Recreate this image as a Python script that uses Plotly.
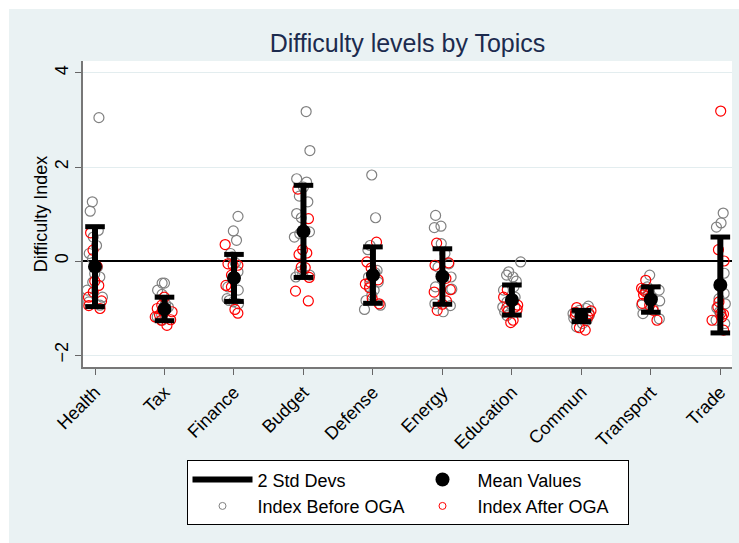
import plotly.graph_objects as go

topics = ["Health", "Tax", "Finance", "Budget", "Defense", "Energy",
          "Education", "Commun", "Transport", "Trade"]

mean_values = [-0.12, -1.02, -0.36, 0.63, -0.30, -0.33, -0.83, -1.17, -0.82, -0.51]
two_sd = [0.85, 0.25, 0.50, 0.98, 0.60, 0.59, 0.32, 0.12, 0.27, 1.02]

before_health = [3.05, 1.26, 1.06, 0.65, 0.51, 0.33, 0.16, 0.05, -0.13, -0.27, -0.34, -0.45, -0.62, -0.77, -0.87, -0.94]
after_health = [0.60, 0.23, -0.11, -0.43, -0.52, -0.66, -0.77, -0.85, -0.95, -1.01]
before_tax = [-0.47, -0.47, -0.62, -0.71, -0.91, -0.98, -1.08, -1.15, -1.19, -1.26]
after_tax = [-0.77, -0.94, -1.01, -1.05, -1.08, -1.15, -1.19, -1.25, -1.26, -1.37]
before_finance = [0.95, 0.64, 0.44, 0.16, 0.09, -0.04, -0.23, -0.55, -0.62, -0.80, -0.84, -0.87, -0.91]
after_finance = [0.35, -0.06, -0.09, -0.09, -0.30, -0.33, -0.52, -0.55, -1.03, -1.11]
before_budget = [3.18, 2.35, 1.75, 1.68, 1.57, 1.38, 1.26, 1.01, 0.92, 0.62, 0.58, 0.51, -0.23, -0.27, -0.30, -0.34]
after_budget = [1.53, 0.90, 0.24, 0.17, 0.14, -0.13, -0.14, -0.35, -0.64, -0.85]
before_defense = [1.83, 0.92, 0.33, 0.24, -0.20, -0.25, -0.34, -0.45, -0.55, -0.62, -0.73, -0.84, -0.94, -1.03]
after_defense = [0.40, -0.02, -0.15, -0.40, -0.45, -0.49, -0.57, -0.80, -0.91]
before_energy = [0.97, 0.74, 0.71, 0.37, 0.16, -0.06, -0.13, -0.34, -0.55, -0.60, -0.91, -0.95, -1.08]
after_energy = [0.38, -0.04, -0.09, -0.37, -0.61, -0.66, -0.85, -0.92, -1.05]
before_education = [-0.02, -0.23, -0.30, -0.34, -0.43, -0.55, -0.62, -0.77, -0.87, -0.98, -1.08, -1.16]
after_education = [-0.61, -0.77, -0.94, -0.98, -1.00, -1.03, -1.06, -1.26, -1.31]
before_commun = [-0.96, -1.01, -1.05, -1.12, -1.15, -1.19, -1.22, -1.26, -1.33, -1.40]
after_commun = [-0.99, -1.06, -1.09, -1.12, -1.15, -1.19, -1.22, -1.42, -1.47]
before_transport = [-0.30, -0.55, -0.60, -0.62, -0.70, -0.78, -0.85, -0.94, -1.00, -1.12, -1.23]
after_transport = [-0.41, -0.58, -0.62, -0.66, -0.72, -0.80, -0.90, -0.94, -1.05, -1.26]
before_trade = [1.02, 0.81, 0.72, -0.26, -0.50, -0.69, -0.80, -0.91, -1.00, -1.08, -1.26, -1.33]
after_trade = [3.19, 0.24, 0.00, -0.87, -0.98, -1.11, -1.13, -1.19, -1.26, -1.47]

before_lists = [before_health, before_tax, before_finance, before_budget, before_defense,
                before_energy, before_education, before_commun, before_transport, before_trade]
after_lists = [after_health, after_tax, after_finance, after_budget, after_defense,
               after_energy, after_education, after_commun, after_transport, after_trade]

FONT = "Liberation Sans, Arial, sans-serif"
GRAY_PTS = "#808080"
RED_PTS = "#FF0000"

def flatten(lists):
    xs, ys = [], []
    for t, vals in zip(topics, lists):
        xs += [t] * len(vals)
        ys += vals
    return xs, ys

# std dev segments
seg_x, seg_y = [], []
cap_x, cap_y = [], []
for t, m, s in zip(topics, mean_values, two_sd):
    seg_x += [t, t, None]
    seg_y += [m - s, m + s, None]
    cap_x += [t, t]
    cap_y += [m - s, m + s]

fig = go.Figure()

fig.add_trace(go.Scatter(
    x=seg_x, y=seg_y, mode="lines", name="2 Std Devs",
    line=dict(color="black", width=6), legendgroup="sd", hoverinfo="skip"))
fig.add_trace(go.Scatter(
    x=cap_x, y=cap_y, mode="markers", showlegend=False, legendgroup="sd",
    marker=dict(symbol="line-ew", size=14, line=dict(color="black", width=5)),
    hoverinfo="skip"))
fig.add_trace(go.Scatter(
    x=topics, y=mean_values, mode="markers", name="Mean Values",
    marker=dict(symbol="circle", size=14, color="black")))

# legend entries for the point clouds
fig.add_trace(go.Scatter(
    x=[None], y=[None], mode="markers", name="Index Before OGA",
    marker=dict(symbol="circle-open", size=7, color=GRAY_PTS, line=dict(width=1))))
fig.add_trace(go.Scatter(
    x=[None], y=[None], mode="markers", name="Index After OGA",
    marker=dict(symbol="circle-open", size=7, color=RED_PTS, line=dict(width=1))))

bx, by = flatten(before_lists)
ax_, ay = flatten(after_lists)
for xs, ys, col, nm in [(bx, by, GRAY_PTS, "Index Before OGA"), (ax_, ay, RED_PTS, "Index After OGA")]:
    fig.add_trace(go.Box(
        x=xs, y=ys, name=nm, showlegend=False,
        boxpoints="all", jitter=0.7, pointpos=0, width=0.4,
        fillcolor="rgba(0,0,0,0)", line=dict(width=0, color="rgba(0,0,0,0)"),
        whiskerwidth=0, hoveron="points",
        marker=dict(symbol="circle-open", size=10, color=col, line=dict(width=1.2, color=col))))

# background regions (graph region tint, white plot region)
shapes = [
    dict(type="rect", xref="paper", yref="paper", x0=-0.114, x1=1.03, y0=-0.6, y1=1.17,
         fillcolor="#EAF2F3", line=dict(width=0), layer="below"),
    dict(type="rect", xref="paper", yref="paper", x0=0, x1=1, y0=0, y1=1,
         fillcolor="white", line=dict(width=0), layer="below"),
]

fig.update_layout(
    width=739, height=543,
    margin=dict(l=83, r=7, t=61, b=176),
    paper_bgcolor="white", plot_bgcolor="white",
    font=dict(family=FONT, size=18, color="black"),
    title=dict(text="Difficulty levels by Topics", x=0.5, xref="paper", xanchor="center",
               y=1 - 43 / 543, yanchor="middle",
               font=dict(family=FONT, size=25, color="#1c2b4e")),
    shapes=shapes,
    boxmode="overlay",
    showlegend=True,
    legend=dict(orientation="h", x=0.5, xanchor="center", y=-0.305, yanchor="top",
                bgcolor="white", bordercolor="black", borderwidth=1,
                font=dict(family=FONT, size=18, color="black"),
                itemwidth=60,
                entrywidth=145, entrywidthmode="pixels", traceorder="normal"),
    xaxis=dict(type="category", categoryorder="array", categoryarray=topics,
               range=[-0.173, 9.168], tickangle=-45, ticks="outside", ticklen=6,
               tickcolor="#666666", showline=True, linecolor="#777777", linewidth=1.5,
               showgrid=False, automargin=False, tickfont=dict(size=18)),
    yaxis=dict(range=[-2.255, 4.255], tickvals=[-2, 0, 2, 4], tickangle=-90,
               ticks="outside", ticklen=6, tickcolor="#666666",
               showline=True, linecolor="#777777", linewidth=1.5,
               showgrid=True, gridcolor="#E3EDEF", gridwidth=1,
               zeroline=True, zerolinecolor="black", zerolinewidth=2,
               title=dict(text="Difficulty Index", font=dict(size=18), standoff=0),
               automargin=False, tickfont=dict(size=18)),
)

fig.write_html("out.html", config={"displayModeBar": False},
               post_script="document.body.style.margin = '0';")
